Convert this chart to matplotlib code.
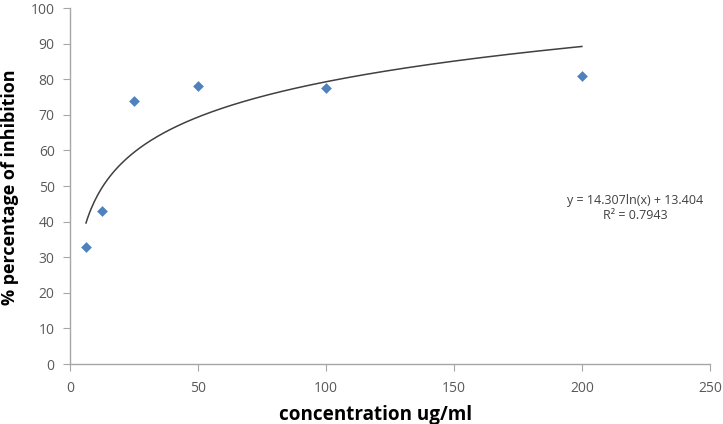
import numpy as np
import matplotlib
matplotlib.use("Agg")
import matplotlib.pyplot as plt

conc = [6.25, 12.5, 25, 50, 100, 200]
inhibition = [33, 43, 74, 78, 77.5, 81]
slope = 14.307
intercept = 13.404
r2 = 0.7943
xticks = [0, 50, 100, 150, 200, 250]
yticks = [0, 10, 20, 30, 40, 50, 60, 70, 80, 90, 100]

plt.rcParams['font.family'] = ['Open Sans', 'DejaVu Sans']

fig = plt.figure(figsize=(7.23, 4.24), dpi=100)
ax = fig.add_axes([0.0968, 0.1415, 0.885, 0.8395])

xs = np.linspace(min(conc), max(conc), 300)
ax.plot(xs, slope * np.log(xs) + intercept, color='#404040', lw=1.1, zorder=2)
ax.scatter(conc, inhibition, marker='D', s=30, color='#4F81BD', zorder=3, linewidths=0)

ax.set_xlim(0, 250)
ax.set_ylim(0, 100)
ax.set_xticks(xticks)
ax.set_yticks(yticks)
for s in ['top', 'right']:
    ax.spines[s].set_visible(False)
for s in ['left', 'bottom']:
    ax.spines[s].set_color('#A6A6A6')
    ax.spines[s].set_linewidth(1)
ax.tick_params(axis='both', colors='#A6A6A6', labelcolor='#595959', labelsize=10, length=5, direction='out')
ax.tick_params(axis='x', pad=7)
ax.tick_params(axis='y', pad=6)

ax.set_xlabel('concentration ug/ml', fontsize=13.6, fontweight='bold', color='#000000')
ax.xaxis.set_label_coords(0.478, -0.115)
ax.set_ylabel('% percentage of inhibition', fontsize=13, fontweight='bold', color='#000000')
ax.yaxis.set_label_coords(-0.079, 0.497)

ax.text(221, 43.8, f'y = {slope}ln(x) + {intercept}\nR² = {r2}', ha='center', va='center',
        fontsize=9, color='#404040', linespacing=1.25, multialignment='center')

fig.savefig('out.png', dpi=100)
